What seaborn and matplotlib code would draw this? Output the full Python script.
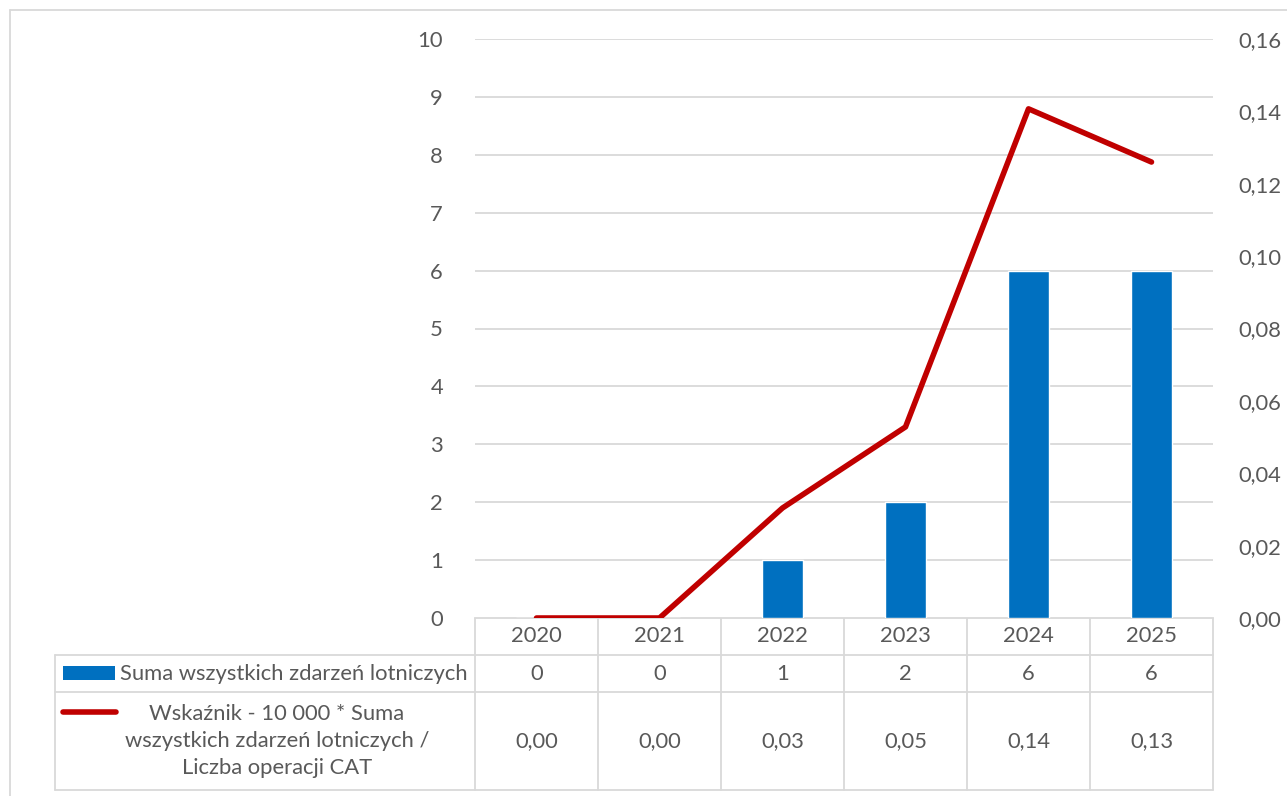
import numpy as np
import pandas as pd
import matplotlib.pyplot as plt
import seaborn as sns

years = ["2020", "2021", "2022", "2023", "2024", "2025"]
events = [0, 0, 1, 2, 6, 6]
ratio = [0.0, 0.0, 0.0304, 0.0528, 0.1407, 0.126]
ratio_labels = ["0,00", "0,00", "0,03", "0,05", "0,14", "0,13"]
bar_label = "Suma wszystkich zdarzeń lotniczych"
line_label = "Wskaźnik - 10 000 * Suma\nwszystkich zdarzeń lotniczych /\nLiczba operacji CAT"

BLUE = "#0070C0"
RED = "#C00000"
GRID = "#D9D9D9"
TXT = "#595959"
W, H = 1287, 796

sns.set_style("white")
plt.rcParams['font.family'] = ['Lato', 'DejaVu Sans']
plt.rcParams['font.size'] = 15.8

df = pd.DataFrame({"year": years, "events": events, "ratio": ratio})

fig = plt.figure(figsize=(W / 100, H / 100), dpi=100)
x0, x1, y0, y1 = 475, 1213, 39, 618
ax = fig.add_axes([x0 / W, 1 - y1 / H, (x1 - x0) / W, (y1 - y0) / H])

sns.barplot(data=df, x="year", y="events", color=BLUE, width=0.33,
            saturation=1, ax=ax)
ax.set_ylim(0, 10)
ax.set_yticks(range(0, 11))
ax.set_xlim(-0.5, 5.5)
ax.set_xticks([])
ax.set_xlabel("")
ax.set_ylabel("")
ax.grid(axis="y", color=GRID, linewidth=1.3)
ax.set_axisbelow(True)
for s in ax.spines.values():
    s.set_visible(False)
ax.tick_params(axis="y", length=0, pad=23, colors=TXT)

ax2 = ax.twinx()
sns.lineplot(x=np.arange(len(years)), y=ratio, color=RED, linewidth=4, ax=ax2)
ax2.set_ylim(0, 0.16)
ax2.set_yticks(np.arange(0, 0.161, 0.02))
ax2.set_yticklabels([f"{v:.2f}".replace(".", ",") for v in np.arange(0, 0.161, 0.02)])
ax2.tick_params(axis="y", length=0, pad=18, colors=TXT)
for s in ax2.spines.values():
    s.set_visible(False)
ax2.set_xlim(-0.5, 5.5)

# overlay in pixel coordinates for the data table and frame
ov = fig.add_axes([0, 0, 1, 1], zorder=-1)
ov.set_xlim(0, W)
ov.set_ylim(H, 0)
ov.axis("off")

lc = dict(color=GRID, linewidth=1.3)
ov.plot([10, W], [10, 10], **lc)
ov.plot([10, 10], [10, H], **lc)

col_w = (x1 - x0) / len(years)
r0, r1, r2, r3 = 618, 655, 692, 790
tl = 55
ov.plot([x0, x1], [r0, r0], **lc)
ov.plot([tl, x1], [r1, r1], **lc)
ov.plot([tl, x1], [r2, r2], **lc)
ov.plot([tl, x1], [r3, r3], **lc)
ov.plot([tl, tl], [r1, r3], **lc)
for i in range(len(years) + 1):
    xx = x0 + i * col_w
    ov.plot([xx, xx], [r0, r3], **lc)

for i, y in enumerate(years):
    cx = x0 + (i + 0.5) * col_w
    ov.text(cx, (r0 + r1) / 2, y, ha="center", va="center", color=TXT)
    ov.text(cx, (r1 + r2) / 2, str(events[i]), ha="center", va="center", color=TXT)
    ov.text(cx, (r2 + r3) / 2, ratio_labels[i], ha="center", va="center", color=TXT)

ov.add_patch(plt.Rectangle((63, 666), 52, 14, color=BLUE, lw=0))
ov.text(120, (r1 + r2) / 2, bar_label, ha="left", va="center", color=TXT)
ov.plot([63, 116], [712, 712], color=RED, linewidth=4, solid_capstyle="round")
ov.text(277, (r2 + r3) / 2, line_label, ha="center", va="center", color=TXT,
        linespacing=1.45)

fig.savefig("out.png", dpi=100)
